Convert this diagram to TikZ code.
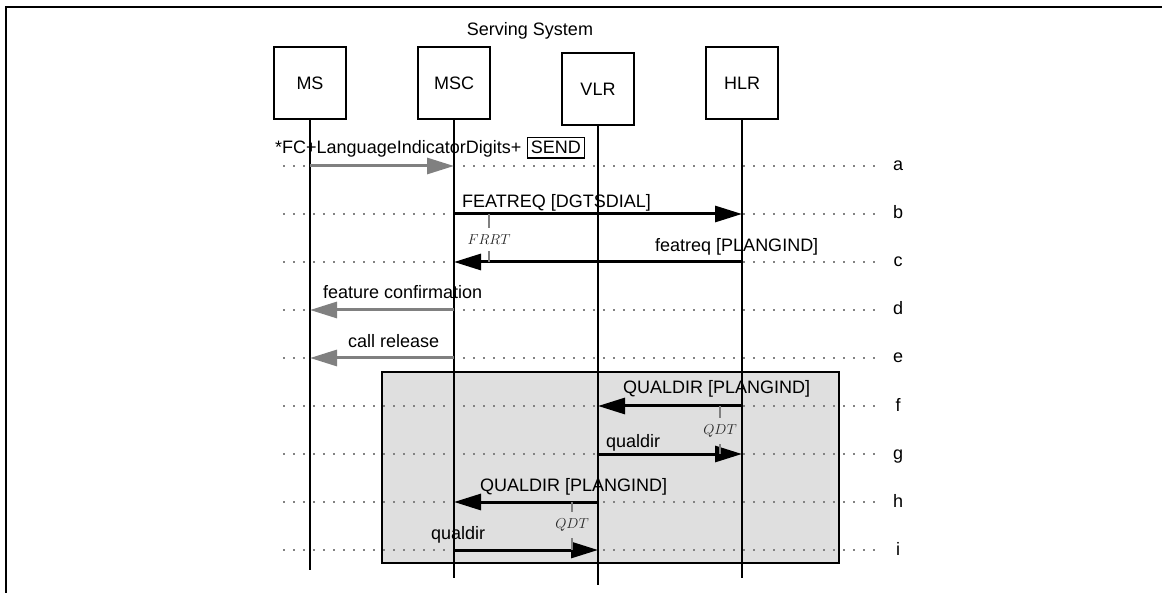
\documentclass[tikz,border=0pt]{standalone}
\usepackage{fontspec}
\setmainfont{Liberation Sans}
\usetikzlibrary{arrows.meta}
\definecolor{msggray}{RGB}{128,128,128}
\definecolor{boxgray}{RGB}{223,223,223}
\definecolor{dotgray}{RGB}{130,130,130}
\begin{document}
\begin{tikzpicture}[x=1pt,y=-1pt,
  every node/.style={font=\fontsize{18}{21}\selectfont, inner sep=0pt},
  entity/.style={draw, line width=2pt, minimum width=72pt, minimum height=72pt},
  life/.style={line width=2pt},
  guide/.style={dotgray, line width=1.5pt, dash pattern=on 1.5pt off 8.5pt},
  msg/.style={line width=3pt, -{Triangle[length=27pt,width=16pt]}},
  graymsg/.style={msg, msggray},
  timer/.style={msggray, line width=2pt},
  tlabel/.style={font=\fontsize{15.5}{18}\selectfont, text=black!85, inner xsep=2pt, inner ysep=6.5pt},
  rowlab/.style={anchor=base},
  lab/.style={anchor=base west},
]
\useasboundingbox (0,0) rectangle (1162,593);
% frame
\draw[line width=2.2pt] (1163,7) -- (6,7) -- (6,594);
% group box
\draw[fill=boxgray, line width=2pt] (382,372) rectangle (839,563);
% rows
\coordinate (ra) at (0,166);
\coordinate (rb) at (0,214);
\coordinate (rc) at (0,262);
\coordinate (rd) at (0,310);
\coordinate (re) at (0,358);
\coordinate (rf) at (0,406);
\coordinate (rg) at (0,454);
\coordinate (rh) at (0,502);
\coordinate (ri) at (0,550);
\foreach \r/\l in {ra/a,rb/b,rc/c,rd/d,re/e,rf/f,rg/g,rh/h,ri/i}{
  \draw[guide] (283,0 |- \r) -- (876,0 |- \r);
  \node[rowlab] (lab-\l) at ([yshift=-5pt]898,0 |- \r) {\l};
}
% entities
\node at (530,36) [anchor=base] (serving) {Serving System};
\node[entity] (ms) at (310,83.5) {MS};
\node[entity] (msc) at (454,83.5) {MSC};
\node[entity] (vlr) at (598,89) {VLR};
\node[entity] (hlr) at (742,83) {HLR};
\coordinate (ms-end) at (310,570);
\coordinate (msc-end) at (454,578);
\coordinate (vlr-end) at (598,585);
\coordinate (hlr-end) at (742,578);
\draw[life] (ms.south) -- (ms-end);
\draw[life] (msc.south) -- (msc-end);
\draw[life] (vlr.south) -- (vlr-end);
\draw[life] (hlr.south) -- (hlr-end);
% messages
\draw[graymsg] (ms |- ra) -- (msc |- ra);
\draw[msg] (msc |- rb) -- (hlr |- rb);
\draw[msg] (hlr |- rc) -- (msc |- rc);
\draw[graymsg] (msc |- rd) -- (ms |- rd);
\draw[graymsg] (msc |- re) -- (ms |- re);
\draw[msg] (hlr |- rf) -- (vlr |- rf);
\draw[msg] (vlr |- rg) -- (hlr |- rg);
\draw[msg] (vlr |- rh) -- (msc |- rh);
\draw[msg] (msc |- ri) -- (vlr |- ri);
% message labels
\node[lab] (la) at (275,154) {*FC+LanguageIndicatorDigits+};
\node[draw, line width=1.6pt, inner xsep=3.5pt, inner ysep=4pt, anchor=base west] (send) at ([xshift=5pt]la.base east) {SEND};
\node[lab] (lb) at (462,208) {FEATREQ [DGTSDIAL]};
\node[lab] (lc) at (655,252) {featreq [PLANGIND]};
\node[lab] (ld) at (323,299) {feature confirmation};
\node[lab] (le) at (348,348) {call release};
\node[lab] (lf) at (623,394) {QUALDIR [PLANGIND]};
\node[lab] (lg) at (606,447) {qualdir};
\node[lab] (lh) at (480,491) {QUALDIR [PLANGIND]};
\node[lab] (li) at (431,539) {qualdir};
% timers
\node[tlabel] (frrt) at (489,239.5) {$FRRT$};
\draw[timer] (frrt.north) -- (frrt.north |- rb);
\draw[timer] (frrt.south) -- (frrt.south |- rc);
\node[tlabel] (qdt1) at (720,431) {$QDT$};
\draw[timer] (qdt1.north) -- (qdt1.north |- rf);
\draw[timer] (qdt1.south) -- (qdt1.south |- rg);
\node[tlabel] (qdt2) at (572,525) {$QDT$};
\draw[timer] (qdt2.north) -- (qdt2.north |- rh);
\draw[timer] (qdt2.south) -- (qdt2.south |- ri);
\end{tikzpicture}
\end{document}
